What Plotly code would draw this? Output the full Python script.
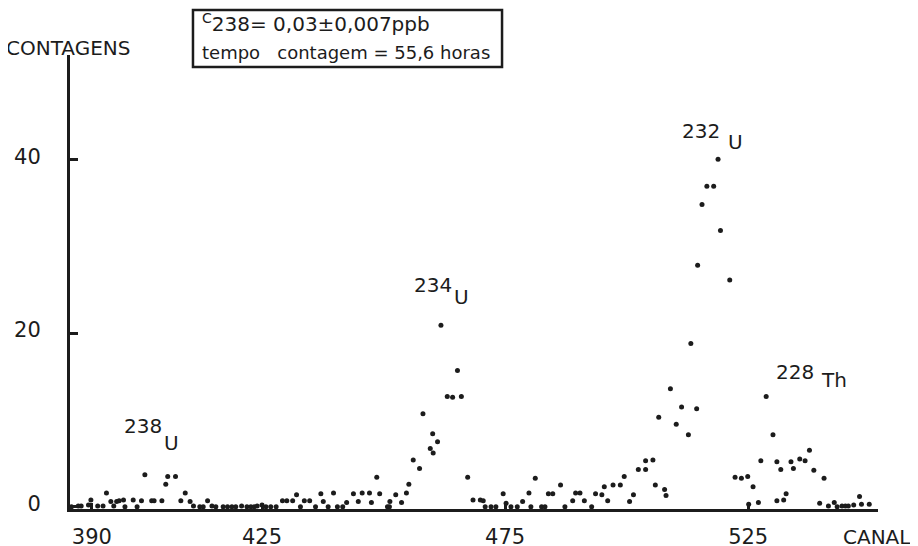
import plotly.graph_objects as go

# ---- data ----
canal = [385.8, 387.2, 387.8, 389.3, 389.8, 391.2, 392.3, 393.0, 393.9, 394.5,
         395.1, 395.6, 396.5, 396.8, 398.5, 399.3, 400.2, 400.9, 402.3, 402.8,
         404.4, 405.2, 405.6, 407.2, 408.3, 409.2, 410.2, 410.9, 412.2, 412.9,
         413.8, 414.7, 415.5, 417.0, 417.9, 418.8, 419.6, 420.8, 421.9, 422.7,
         423.4, 424.0, 425.0, 425.8, 426.8, 427.9, 429.2, 430.1, 431.3, 432.1,
         432.9, 433.7, 434.8, 436.0, 437.1, 437.6, 438.6, 439.7, 440.5, 441.6,
         442.4, 443.8, 444.8, 445.6, 447.1, 447.5, 448.6, 449.2, 450.8, 451.2,
         451.3, 452.5, 453.7, 454.7, 455.2, 456.1, 457.4, 458.1, 459.6, 460.1,
         460.2, 461.1, 461.8, 463.1, 464.2, 465.2, 466.0, 467.3, 468.4, 469.9,
         470.5, 470.9, 472.1, 473.1, 474.6, 475.2, 476.2, 477.5, 478.6, 479.9,
         480.3, 481.2, 482.5, 483.2, 483.9, 484.8, 486.4, 487.3, 488.9, 489.5,
         490.4, 491.3, 492.8, 493.6, 494.9, 495.4, 496.1, 497.2, 498.7, 499.5,
         500.6, 501.4, 502.4, 503.9, 503.9, 505.4, 505.9, 506.6, 507.8, 508.1,
         509.0, 510.2, 511.3, 512.7, 513.2, 514.4, 514.6, 515.5, 516.5, 517.9,
         518.8, 519.3, 521.2, 522.3, 523.6, 524.9, 525.1, 526.0, 527.1, 527.6,
         528.7, 530.1, 530.9, 530.9, 531.7, 532.3, 532.8, 533.8, 534.3, 535.6,
         536.7, 537.6, 538.5, 539.7, 540.6, 541.5, 542.7, 543.3, 544.3, 545.0,
         545.6, 546.7, 547.9, 548.3, 549.9]

contagens = [0.0, 0.1, 0.1, 0.2, 0.8, 0.1, 0.1, 1.6, 0.6, 0.1,
             0.6, 0.7, 0.8, 0.0, 0.8, 0.0, 0.7, 3.7, 0.7, 0.7,
             0.7, 2.6, 3.5, 3.5, 0.7, 1.6, 0.6, 0.1, 0.0, 0.0,
             0.7, 0.1, 0.0, 0.0, 0.0, 0.0, 0.0, 0.1, 0.0, 0.0,
             0.0, 0.1, 0.2, 0.0, 0.0, 0.0, 0.7, 0.7, 0.7, 1.4,
             0.0, 0.7, 0.7, 0.0, 1.5, 0.6, 0.0, 1.6, 0.0, 0.0,
             0.5, 1.5, 0.6, 1.6, 1.6, 0.5, 3.4, 1.5, 0.0, 0.0,
             0.6, 1.4, 0.5, 1.6, 2.6, 5.4, 4.4, 10.7, 6.7, 8.4,
             6.2, 7.5, 20.9, 12.7, 12.6, 15.7, 12.7, 3.4, 0.8, 0.8,
             0.7, 0.0, 0.0, 0.0, 1.5, 0.4, 0.0, 0.0, 0.6, 1.6,
             0.0, 3.3, 0.0, 0.0, 1.5, 1.5, 2.5, 0.0, 0.7, 1.6,
             1.6, 0.7, 0.0, 1.5, 1.4, 2.3, 0.7, 2.5, 2.5, 3.5,
             0.6, 1.4, 4.3, 5.3, 4.3, 5.4, 2.5, 10.3, 2.0, 1.3,
             13.6, 9.5, 11.5, 8.3, 18.8, 11.3, 27.8, 34.8, 36.9, 36.9,
             40.0, 31.8, 26.1, 3.4, 3.3, 3.5, 0.3, 2.3, 0.5, 5.3,
             12.7, 8.3, 5.2, 0.7, 4.3, 0.8, 1.5, 5.2, 4.4, 5.5,
             5.3, 6.5, 4.2, 0.4, 3.3, 0.1, 0.5, 0.0, 0.1, 0.1,
             0.1, 0.2, 1.2, 0.3, 0.3]

x_ticks = [390, 425, 475, 525]
x_tick_labels = ["390", "425", "475", "525"]
y_ticks = [0, 20, 40]
y_tick_labels = ["0", "20", "40"]

INK = "#1c1c1c"
FONT = "DejaVu Sans"

fig = go.Figure()
fig.add_trace(go.Scatter(
    x=canal, y=contagens, mode="markers",
    marker=dict(color=INK, size=5, line=dict(width=0)),
    cliponaxis=False, hoverinfo="x+y", showlegend=False))

# peak labels (mass number + element, element set lower)
peaks = [("238", "U", 400.5, 9.3, 406.4, 7.3),
         ("234", "U", 460.1, 25.5, 466.0, 24.1),
         ("232", "U", 515.3, 43.2, 522.4, 42.0),
         ("228", "Th", 534.7, 15.5, 542.7, 14.6)]
for mass, el, xm, ym, xe, ye in peaks:
    fig.add_annotation(x=xm, y=ym, text=mass, showarrow=False,
                       xanchor="center", yanchor="middle",
                       font=dict(family=FONT, size=20, color=INK))
    fig.add_annotation(x=xe, y=ye, text=el, showarrow=False,
                       xanchor="center", yanchor="middle",
                       font=dict(family=FONT, size=20, color=INK))

# axis titles
fig.add_annotation(xref="paper", yref="paper", x=-0.0025, y=1.0165,
                   xanchor="center", yanchor="middle",
                   text="CONTAGENS", showarrow=False,
                   font=dict(family=FONT, size=20, color=INK))
fig.add_annotation(xref="paper", yref="paper", x=0.9988, y=-0.0606,
                   xanchor="center", yanchor="middle",
                   text="CANAL", showarrow=False,
                   font=dict(family=FONT, size=20, color=INK))

# info box
fig.add_shape(type="rect", xref="paper", yref="paper",
              x0=0.1522, x1=0.5347, y0=0.9736, y1=1.0991,
              line=dict(color=INK, width=2.5), fillcolor="white")
fig.add_annotation(xref="paper", yref="paper", x=0.1609, y=1.0705,
                   xanchor="left", yanchor="middle",
                   text="<sup>C</sup>238= 0,03±0,007ppb",
                   showarrow=False, font=dict(family=FONT, size=20, color=INK))
fig.add_annotation(xref="paper", yref="paper", x=0.1609, y=1.0066,
                   xanchor="left", yanchor="middle",
                   text="tempo   contagem = 55,6 horas",
                   showarrow=False, font=dict(family=FONT, size=18, color=INK))

# the page adds an 8px body margin, so the figure is 8px smaller on each axis
fig.update_layout(
    width=910, height=538,
    margin=dict(l=62, r=40, t=47, b=37, autoexpand=False),
    paper_bgcolor="white", plot_bgcolor="white",
    font=dict(family=FONT, color=INK),
)
fig.update_xaxes(
    range=[385.5, 551.7], tickvals=x_ticks, ticktext=x_tick_labels,
    showgrid=False, zeroline=False, showline=True, linecolor=INK, linewidth=3,
    ticks="inside", ticklen=6, tickwidth=3, tickcolor=INK, automargin=False,
    tickfont=dict(family=FONT, size=21, color=INK), ticklabelstandoff=7)
fig.update_yaxes(
    range=[-0.25, 52.0], tickvals=y_ticks, ticktext=y_tick_labels,
    showgrid=False, zeroline=False, showline=True, linecolor=INK, linewidth=3,
    ticks="inside", ticklen=8, tickwidth=3, tickcolor=INK, automargin=False,
    tickfont=dict(family=FONT, size=21, color=INK), ticklabelstandoff=22,
    ticklabelshift=-3)

fig.write_html("out.html")
